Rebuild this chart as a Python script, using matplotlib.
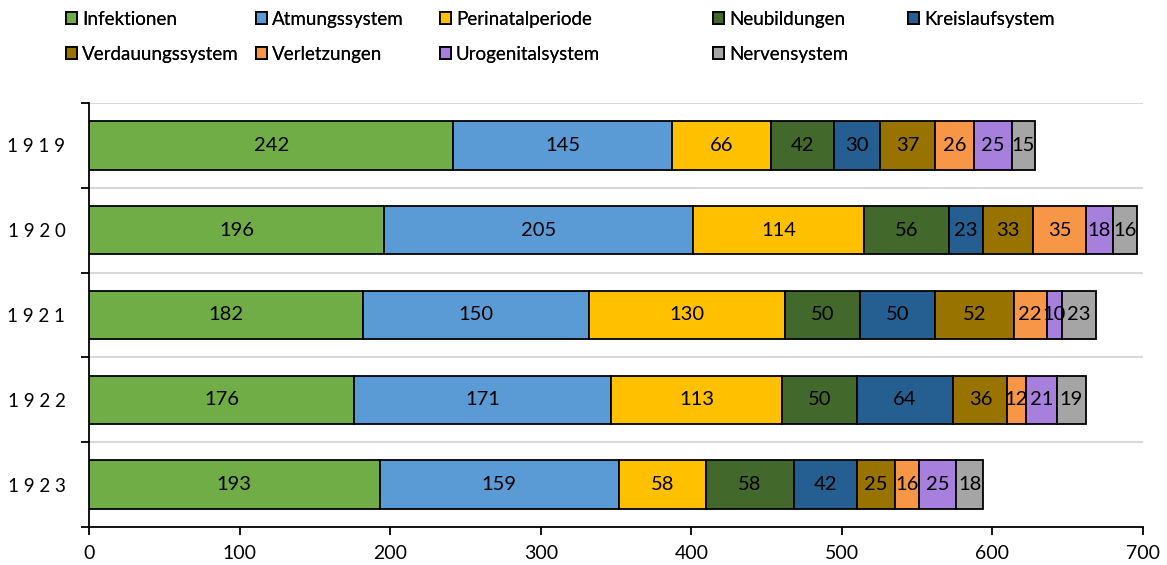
import matplotlib
matplotlib.use("Agg")
import matplotlib.pyplot as plt
import numpy as np

plt.rcParams['font.family'] = ['Lato', 'DejaVu Sans']

years = ["1919", "1920", "1921", "1922", "1923"]
categories = ["Infektionen", "Atmungssystem", "Perinatalperiode", "Neubildungen",
              "Kreislaufsystem", "Verdauungssystem", "Verletzungen",
              "Urogenitalsystem", "Nervensystem"]
values = {
    "Infektionen":      [242, 196, 182, 176, 193],
    "Atmungssystem":    [145, 205, 150, 171, 159],
    "Perinatalperiode": [66, 114, 130, 113, 58],
    "Neubildungen":     [42, 56, 50, 50, 58],
    "Kreislaufsystem":  [30, 23, 50, 64, 42],
    "Verdauungssystem": [37, 33, 52, 36, 25],
    "Verletzungen":     [26, 35, 22, 12, 16],
    "Urogenitalsystem": [25, 18, 10, 21, 25],
    "Nervensystem":     [15, 16, 23, 19, 18],
}
colors = ["#70AD47", "#5B9BD5", "#FFC000", "#43682B", "#255E91",
          "#997300", "#F79646", "#A77FDD", "#A5A5A5"]
xticks = [0, 100, 200, 300, 400, 500, 600, 700]

fig = plt.figure(figsize=(11.67, 5.65), dpi=100)
ax = fig.add_axes([89/1167, 1-527/565, (1143-89)/1167, (527-103)/565])

y = np.arange(len(years))
left = np.zeros(len(years))
handles = []
for cat, col in zip(categories, colors):
    vals = np.array(values[cat], dtype=float)
    bars = ax.barh(y, vals, left=left, height=0.57, color=col,
                   edgecolor="black", linewidth=1.3, label=cat, zorder=3)
    ax.bar_label(bars, labels=[str(int(v)) for v in vals], label_type="center",
                 fontsize=14.5, color="black", zorder=4)
    handles.append(bars)
    left += vals

ax.set_xlim(0, 700)
ax.set_ylim(len(years) - 0.5, -0.5)
ax.set_xticks(xticks)
ax.set_xticklabels([str(t) for t in xticks], fontsize=14)
ax.set_yticks(y)
ax.set_yticklabels([" ".join(yr) for yr in years], fontsize=13.5)
ax.set_yticks(np.arange(-0.5, len(years) + 0.5, 1), minor=True)
ax.tick_params(axis="y", which="major", length=0, pad=17)
ax.tick_params(axis="y", which="minor", length=6, width=1.3, direction="out", color="black")
ax.tick_params(axis="x", which="major", length=6, width=1.3, direction="out", pad=7)

for b in np.arange(-0.5, len(years) - 0.5, 1):
    ax.axhline(b, color="#D9D9D9", linewidth=1.5, zorder=1)

for s in ["top", "right"]:
    ax.spines[s].set_visible(False)
for s in ["left", "bottom"]:
    ax.spines[s].set_linewidth(1.3)
    ax.spines[s].set_color("black")

# legend: 5 columns, entries read row by row
col_x = [66, 256, 440, 713, 908]
col_entries = [[0, 5], [1, 6], [2, 7], [3, 8], [4]]
for cx, idxs in zip(col_x, col_entries):
    lg = fig.legend([handles[i] for i in idxs], [categories[i] for i in idxs],
                    loc="upper left", bbox_to_anchor=(cx/1167, 1 - 11/565),
                    frameon=False, fontsize=13.5, handlelength=0.6, handleheight=0.6,
                    handletextpad=0.25, labelspacing=0.95, borderaxespad=0.0,
                    borderpad=0.0)
    fig.add_artist(lg)

fig.savefig("out.png", dpi=100)
